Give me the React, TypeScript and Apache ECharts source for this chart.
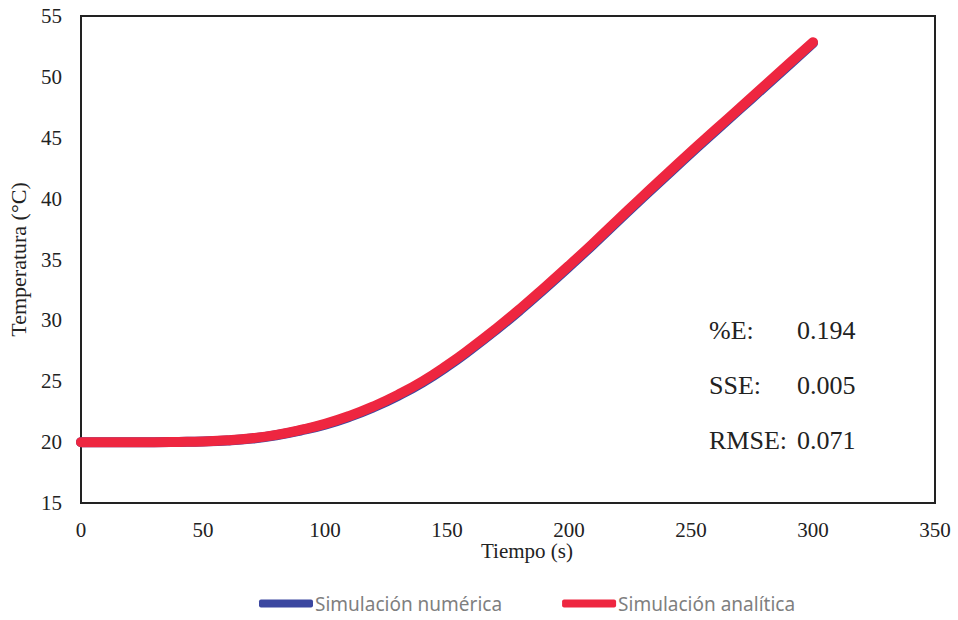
import React, { useEffect, useRef } from "react";
import * as echarts from "echarts";

const timeS = [0, 10, 20, 30, 40, 50, 60, 70, 80, 90, 100, 110, 120, 130, 140, 150, 160, 170, 180, 190, 200, 210, 220, 230, 240, 250, 260, 270, 280, 290, 300];
const analitica = [20.0, 20.0, 20.0, 20.0, 20.02, 20.06, 20.15, 20.32, 20.6, 21.0, 21.5, 22.15, 22.95, 23.9, 25.0, 26.3, 27.75, 29.3, 30.95, 32.7, 34.5, 36.35, 38.25, 40.15, 42.0, 43.85, 45.65, 47.45, 49.25, 51.05, 52.85];
const numerica = [20.0, 20.0, 20.0, 20.0, 20.02, 20.05, 20.13, 20.29, 20.56, 20.95, 21.44, 22.08, 22.87, 23.81, 24.9, 26.2, 27.65, 29.2, 30.85, 32.6, 34.4, 36.25, 38.15, 40.05, 41.9, 43.75, 45.55, 47.35, 49.15, 50.95, 52.78];
const xTicks = { min: 0, max: 350, interval: 50 };
const yTicks = { min: 15, max: 55, interval: 5 };
const stats = [
  ["%E:", "0.194"],
  ["SSE:", "0.005"],
  ["RMSE:", "0.071"],
];

export default function App() {
  const ref = useRef<HTMLDivElement>(null);
  useEffect(() => {
    if (!ref.current) return;
    const chart = echarts.init(ref.current, undefined, { renderer: "svg" });
    const serif = "'Liberation Serif', 'Times New Roman', serif";
    const statGraphics: any[] = [];
    stats.forEach((s, i) => {
      statGraphics.push({
        type: "text",
        x: 709,
        y: 330 + i * 55,
        style: { text: s[0], font: `26px ${serif}`, fill: "#222", verticalAlign: "middle" },
      });
      statGraphics.push({
        type: "text",
        x: 797,
        y: 330 + i * 55,
        style: { text: s[1], font: `26px ${serif}`, fill: "#222", verticalAlign: "middle" },
      });
    });
    chart.setOption({
      animation: false,
      backgroundColor: "#fff",
      grid: {
        left: 81,
        right: 23,
        top: 16,
        bottom: 117,
        show: true,
        borderColor: "#222",
        borderWidth: 2,
        containLabel: false,
        outerBoundsMode: "none",
      },
      legend: {
        bottom: 2,
        left: 254,
        itemWidth: 54,
        itemHeight: 8,
        itemGap: 60,
        icon: "roundRect",
        textStyle: {
          fontFamily: "'Noto Sans', 'Liberation Sans', sans-serif",
          fontSize: 19,
          color: "#7f7f7f",
          padding: [0, 0, 0, -3],
        },
        data: ["Simulación numérica", "Simulación analítica"],
      },
      xAxis: {
        type: "value",
        min: xTicks.min,
        max: xTicks.max,
        interval: xTicks.interval,
        axisLine: { show: true, lineStyle: { color: "#222", width: 2 } },
        axisTick: { show: false },
        splitLine: { show: false },
        axisLabel: { fontFamily: serif, fontSize: 21, color: "#222", margin: 16 },
      },
      yAxis: {
        type: "value",
        min: yTicks.min,
        max: yTicks.max,
        interval: yTicks.interval,
        name: "Temperatura (°C)",
        nameLocation: "middle",
        nameGap: 52,
        nameTextStyle: { fontFamily: serif, fontSize: 22, color: "#222" },
        axisLine: { show: true, lineStyle: { color: "#222", width: 2 } },
        axisTick: { show: false },
        splitLine: { show: false },
        axisLabel: { fontFamily: serif, fontSize: 21, color: "#222", margin: 19 },
      },
      graphic: [
        {
          type: "text",
          x: 527,
          y: 551,
          style: { text: "Tiempo (s)", font: `21px ${serif}`, fill: "#222", align: "center", verticalAlign: "middle" },
        },
        ...statGraphics,
      ],
      series: [
        {
          name: "Simulación numérica",
          type: "line",
          data: timeS.map((t, i) => [t, numerica[i]]),
          smooth: true,
          showSymbol: false,
          symbol: "none",
          color: "#3B47A0",
          lineStyle: { width: 10, color: "#3B47A0", cap: "round" },
        },
        {
          name: "Simulación analítica",
          type: "line",
          data: timeS.map((t, i) => [t, analitica[i]]),
          smooth: true,
          showSymbol: false,
          symbol: "none",
          color: "#EE2640",
          lineStyle: { width: 10, color: "#EE2640", cap: "round" },
        },
      ],
    });
    return () => chart.dispose();
  }, []);
  return <div ref={ref} style={{ position: "fixed", left: 0, top: 0, width: 958, height: 620 }} />;
}
